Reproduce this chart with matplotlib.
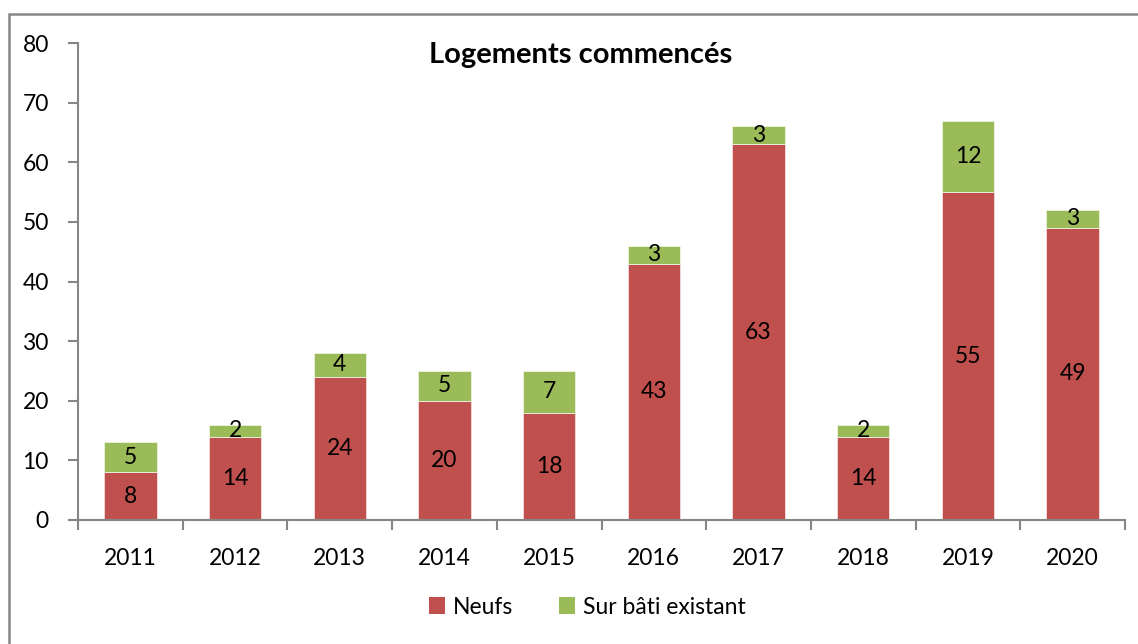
import matplotlib
matplotlib.use("Agg")
import matplotlib.pyplot as plt
from matplotlib.patches import Rectangle, Patch
import numpy as np

years = ["2011", "2012", "2013", "2014", "2015", "2016", "2017", "2018", "2019", "2020"]
neufs = [8, 14, 24, 20, 18, 43, 63, 14, 55, 49]
sur_bati = [5, 2, 4, 5, 7, 3, 3, 2, 12, 3]

RED = "#C0504D"
GREEN = "#9BBB59"
GRAY = "#868686"

plt.rcParams["font.family"] = ["Lato", "DejaVu Sans"]

fig = plt.figure(figsize=(11.38, 6.44), dpi=100)
ax = fig.add_axes([78 / 1138, 1 - 520 / 644, (1125 - 78) / 1138, (520 - 43) / 644])

# outer chart frame
fig.patches.append(Rectangle((9 / 1138, -0.05), 1.2, 1 - 14 / 644 + 0.05,
                             transform=fig.transFigure, fill=False,
                             edgecolor=GRAY, linewidth=1.8))

x = np.arange(len(years))
w = 0.5
ax.bar(x, neufs, width=w, color=RED, edgecolor="#f4dcdb", linewidth=0.6, label="Neufs")
ax.bar(x, sur_bati, width=w, bottom=neufs, color=GREEN, edgecolor="#eef3e2", linewidth=0.6,
       label="Sur bâti existant")

for xi, n, s in zip(x, neufs, sur_bati):
    ax.text(xi, n / 2, str(n), ha="center", va="center", fontsize=16.5, color="black")
    ax.text(xi, n + s / 2, str(s), ha="center", va="center", fontsize=16.5, color="black")

ax.set_xlim(-0.5, len(years) - 0.5)
ax.set_ylim(0, 80)
ax.set_yticks(range(0, 81, 10))
ax.set_xticks(x)
ax.set_xticklabels(years)
ax.set_xticks(np.arange(-0.5, len(years), 1), minor=True)
ax.tick_params(axis="x", which="major", length=0, pad=20, labelsize=16.5)
ax.tick_params(axis="x", which="minor", length=7, width=1.5, color=GRAY, direction="out")
ax.tick_params(axis="y", length=7, width=1.5, color=GRAY, labelsize=16.5, pad=14)

for side in ("top", "right"):
    ax.spines[side].set_visible(False)
for side in ("left", "bottom"):
    ax.spines[side].set_color(GRAY)
    ax.spines[side].set_linewidth(1.5)

fig.text(581 / 1138, 1 - 55 / 644, "Logements commencés", ha="center", va="center",
         fontsize=21, fontweight="bold")

handles = [Patch(facecolor=RED, label="Neufs"), Patch(facecolor=GREEN, label="Sur bâti existant")]
fig.legend(handles=handles, loc="center", bbox_to_anchor=(587 / 1138, 1 - 607 / 644), ncol=2,
           frameon=False, fontsize=16.5, handlelength=0.7, handleheight=0.7, handletextpad=0.35,
           columnspacing=2.0)

fig.savefig("out.png", dpi=100)
